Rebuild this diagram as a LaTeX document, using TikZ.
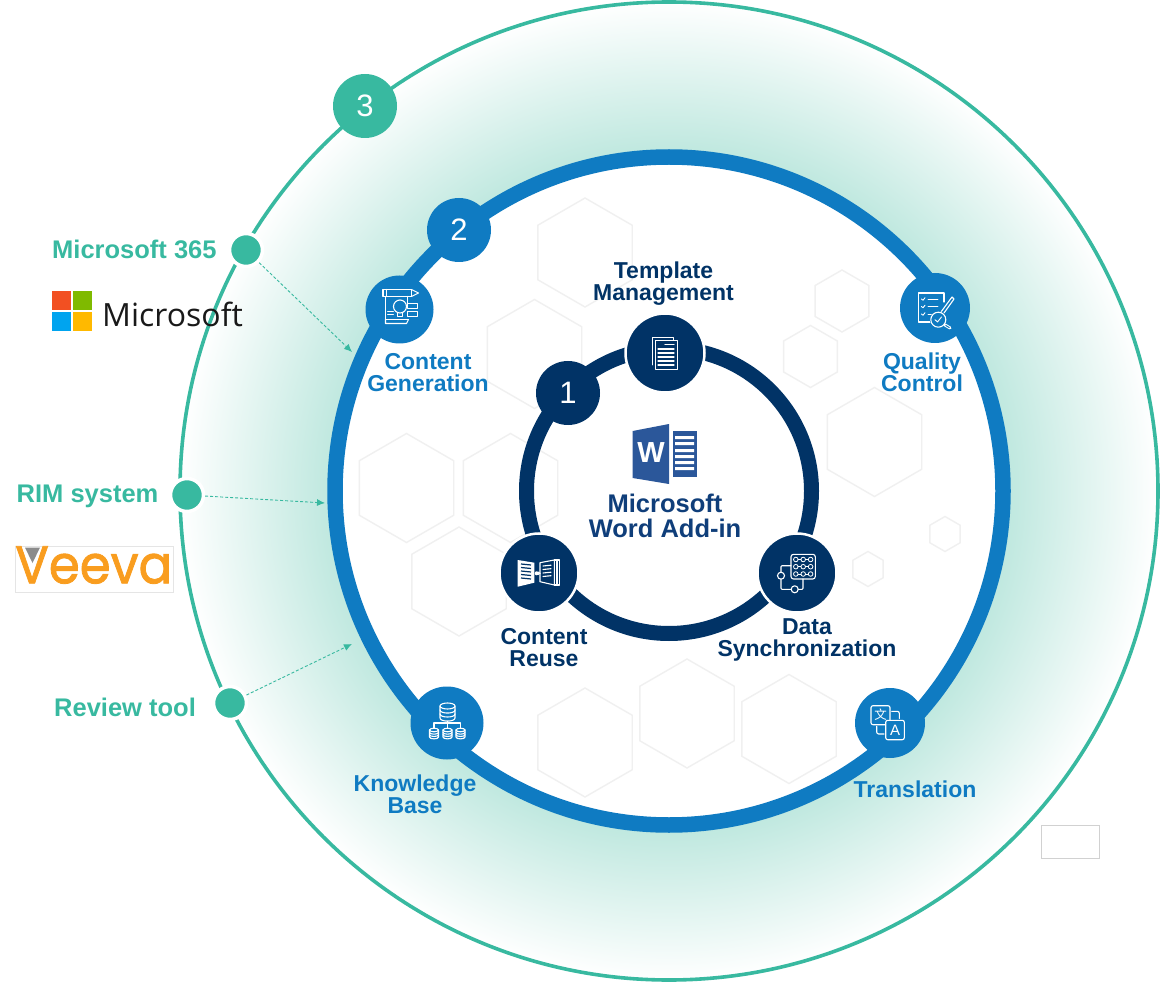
\documentclass[tikz,border=0pt]{standalone}
\usepackage{fontspec}
\usepackage{graphicx}
\setmainfont{Liberation Sans}
\newfontfamily\msfont{Open Sans}
\newfontfamily\vfont[FakeBold=1.6]{Poppins}
\newfontfamily\cjkfont{Noto Sans CJK SC}
\usetikzlibrary{shapes.geometric,arrows.meta}
\definecolor{teal1}{HTML}{38B9A0}
\definecolor{blue1}{HTML}{0F7BC2}
\definecolor{navy1}{HTML}{013366}
\definecolor{navytxt}{HTML}{0F3E7A}
\definecolor{wordblue}{HTML}{2B579A}
\definecolor{hexgray}{HTML}{F0F0F0}
\definecolor{veevaor}{HTML}{F99D1F}
\definecolor{msred}{HTML}{F25022}
\definecolor{msgreen}{HTML}{7FBA00}
\definecolor{msblue}{HTML}{00A4EF}
\definecolor{msyellow}{HTML}{FFB900}
\pgfdeclareradialshading{tealring}{\pgfpointorigin}{rgb(0bp)=(0.75,0.91,0.875); rgb(17.35bp)=(0.75,0.91,0.875); rgb(25bp)=(1,1,1); rgb(50bp)=(1,1,1)}
\tikzset{
  hexa/.style={draw=hexgray,line width=1.4pt,regular polygon,regular polygon sides=6,shape border rotate=30,inner sep=0pt,minimum size=#1},
  numdisc/.style={circle,inner sep=0pt,minimum size=64pt,text=white,font=\fontsize{31}{31}\selectfont},
  bluedisc/.style={circle,inner sep=0pt,fill=blue1,minimum size=#1},
  navydisc/.style={circle,inner sep=0pt,fill=navy1,draw=white,line width=2.5pt,minimum size=79pt},
  tealdot/.style={circle,inner sep=0pt,fill=teal1,draw=white,line width=3.5pt,minimum size=33pt},
  navylab/.style={align=center,text=navy1,font=\bfseries\fontsize{23}{22}\selectfont,inner sep=0pt},
  bluelab/.style={align=center,text=blue1,font=\bfseries\fontsize{23}{22}\selectfont,inner sep=0pt},
  teallab/.style={text=teal1,font=\bfseries\fontsize{25.5}{26}\selectfont,inner sep=0pt},
  dasharrow/.style={draw=teal1,line width=0.9pt,dash pattern=on 3pt off 2pt,-{Latex[length=8pt,width=7pt]}},
  ico/.style={draw=white,line width=1.1pt,line join=round,line cap=round},
  logosq/.style={minimum size=19.2pt,inner sep=0pt}
}
\newcommand{\minidb}[4]{% x y halfwidth height
  \draw[ico] (#1-#3,#2) -- (#1-#3,#2+#4) .. controls (#1-#3,#2+#4+#3*0.55) and (#1+#3,#2+#4+#3*0.55) .. (#1+#3,#2+#4) -- (#1+#3,#2);
  \draw[ico] (#1,#2) ellipse[x radius=#3,y radius=#3*0.4];
  \draw[ico] (#1-#3,#2+#4*0.33) .. controls (#1-#3,#2+#4*0.33+#3*0.55) and (#1+#3,#2+#4*0.33+#3*0.55) .. (#1+#3,#2+#4*0.33);
  \draw[ico] (#1-#3,#2+#4*0.66) .. controls (#1-#3,#2+#4*0.66+#3*0.55) and (#1+#3,#2+#4*0.66+#3*0.55) .. (#1+#3,#2+#4*0.66);
}
\begin{document}
\begin{tikzpicture}[x=1pt,y=-1pt]
\useasboundingbox (0,0) rectangle (1160,984);
\coordinate (hub) at (669,491);

% third circle
\shade[shading=tealring] (hub) circle (490);
\draw[teal1,line width=3.6pt] (hub) circle (489);

% interior
\fill[white] (hub) circle (334);

% hexagons
\node[hexa=109pt] (hx1) at (585,252.5) {};
\node[hexa=109pt] (hx2) at (534.5,354) {};
\node[hexa=109pt] (hx3) at (406.5,488) {};
\node[hexa=109pt] (hx4) at (510.5,488) {};
\node[hexa=109pt] (hx5) at (459,581.5) {};
\node[hexa=109pt] (hx6) at (585,742.5) {};
\node[hexa=109pt] (hx7) at (687,713.5) {};
\node[hexa=109pt] (hx8) at (789,729) {};
\node[hexa=109pt] (hx9) at (874.5,442) {};
\node[hexa=62pt] (hx10) at (842,301) {};
\node[hexa=62pt] (hx11) at (810.5,356.5) {};
\node[hexa=35pt] (hx12) at (945,534) {};
\node[hexa=35pt] (hx13) at (868,569) {};

% rings
\draw[blue1,line width=15.5pt] (hub) circle (334);
\draw[navy1,line width=15pt] (hub) circle (142.5);

% arrows' targets
\coordinate (t1) at (352,352);
\coordinate (t2) at (325,503);
\coordinate (t3) at (352,644);

% inner nodes
\node[numdisc,fill=navy1] (one) at (568,393) {1};
\node[navydisc] (tm) at (665,353) {};
\node[navydisc] (cr) at (539,573) {};
\node[navydisc] (ds) at (797,573) {};

% ring 2 nodes
\node[numdisc,fill=blue1] (two) at (459,230) {2};
\node[numdisc,fill=teal1] (three) at (365,106) {3};
\node[bluedisc=68pt] (cg) at (399.5,309.5) {};
\node[bluedisc=70pt] (qc) at (935,308) {};
\node[bluedisc=73pt] (kb) at (447,723) {};
\node[bluedisc=70pt] (tr) at (890,723) {};

% dots
\node[tealdot] (d1) at (246,250) {};
\node[tealdot] (d2) at (187,495) {};
\node[tealdot] (d3) at (230,703) {};
\draw[dasharrow] (d1) -- (t1);
\draw[dasharrow] (d2) -- (t2);
\draw[dasharrow] (d3) -- (t3);

% labels
\node[teallab,anchor=west] (l1) at (52,249) {Microsoft 365};
\node[teallab,anchor=west] (l2) at (16.5,496.5) {RIM system};
\node[teallab,anchor=west] (l3) at (54,707) {Review tool};

\node[navylab] (lt) at (663.5,283.8) {Template\\Management};
\node[navylab] (lr) at (544,647.5) {Content\\Reuse};
\node[navylab] (ld) at (807,639.5) {Data\\Synchronization};
\node[bluelab] (lg) at (428,372.5) {Content\\Generation};
\node[bluelab] (lq) at (922,372.5) {Quality\\Control};
\node[bluelab] (lk) at (415,794) {Knowledge\\Base};
\node[bluelab] (ltr) at (915,789) {Translation};
\node[align=center,text=navytxt,font=\bfseries\fontsize{25.5}{25.5}\selectfont,inner sep=0pt] (lw) at (665,516) {Microsoft\\Word Add-in};

% Word icon
\fill[wordblue] (672.7,431) rectangle (696.7,477);
\fill[white] (675,436) rectangle (694,439)
  (675,442) rectangle (694,445) (675,449) rectangle (694,452)
  (675,455) rectangle (694,458) (675,461) rectangle (694,464) (675,467) rectangle (694,470);
\fill[wordblue] (632.7,431) -- (669,424) -- (669,484) -- (632.7,478) -- cycle;
\node[text=white,font=\bfseries\fontsize{29}{29}\selectfont,inner sep=0pt] (wl) at (651,453) {W};

% Microsoft logo
\node[logosq,fill=msred,anchor=north west] (sq1) at (52,291) {};
\node[logosq,fill=msgreen,anchor=north west] (sq2) at (72.8,291) {};
\node[logosq,fill=msblue,anchor=north west] (sq3) at (52,311.8) {};
\node[logosq,fill=msyellow,anchor=north west] (sq4) at (72.8,311.8) {};
\node[inner sep=0pt,anchor=west,font=\msfont\fontsize{32}{32}\selectfont,text=black!90] (mslogo) at (102,314) {Microsoft};

% Veeva logo
\node[draw=black!10,line width=0.7pt,minimum width=158pt,minimum height=46pt,inner sep=0pt,anchor=north west] (vbox) at (14.5,545.5) {};
\node[inner sep=0pt,anchor=south west,text=veevaor,font=\vfont] (veeva) at (15,584) {\resizebox{157pt}{37pt}{Veeva}};
\fill[black!45] (25,547.5) -- (40,547.5) -- (32.5,563) -- cycle;

% empty box
\node[draw=black!18,fill=white,line width=0.8pt,minimum width=58pt,minimum height=33pt,inner sep=0pt,anchor=north west] (blank) at (1040.5,824.5) {};

% template icon
\begin{scope}[shift={(tm)}]
  \draw[ico,line width=0.9pt] (-10,-13) rectangle (12,16);
  \draw[ico,line width=0.9pt] (-13,12) -- (-13,-16) -- (8,-16) -- (8,-13);
  \foreach \yy in {-4,0,4,8,12} \draw[ico,line width=1.1pt] (-7,\yy) -- (9,\yy);
  \draw[ico,line width=1.4pt] (0,-8.5) -- (9,-8.5);
\end{scope}

% reuse icon
\begin{scope}[shift={(cr)}]
  \fill[white] (-21.3,-13) -- (-4.7,-10.3) -- (-4.7,9.7) -- (-21.3,13.7) -- cycle;
  \foreach \yy in {-9,-5.5,-2,1.5,5} \draw[navy1,line width=1.2pt] (-18,\yy) -- (-8,\yy+1);
  \fill[white] (-2.3,0.3) circle (2);
  \draw[white,line width=1.4pt,-{Latex[length=3pt,width=4pt]}] (-2,0.3) -- (2,0.3);
  \draw[ico] (1,-10.3) -- (15.3,-13) -- (15.3,12) -- (1,8.7) -- cycle;
  \draw[ico] (15.3,-13) -- (20.7,-13) -- (20.7,12) -- (15.3,12);
  \draw[ico,line width=1.2pt] (18,-13) -- (18,12);
  \foreach \yy in {-7,-3.5,0,3.5} \draw[ico,line width=1.1pt] (4,\yy) -- (12,\yy-0.8);
\end{scope}

% data icon
\begin{scope}[shift={(ds)}]
  \draw[ico,rounded corners=2.5pt] (-6,-18.7) rectangle (18.3,6);
  \foreach \xx in {-1.2,6.2,13.6} \foreach \yy in {-13.5,-6.3,1} \draw[ico,line width=0.8pt] (\xx,\yy) circle (2.3);
  \foreach \yy in {-13.5,-6.3,1} {\draw[ico,line width=0.7pt] (1,\yy) -- (4,\yy); \draw[ico,line width=0.7pt] (8.4,\yy) -- (11.4,\yy);}
  \draw[ico] (-16,2.7) circle (3.5);
  \draw[ico] (-2.3,16.3) circle (3.5);
  \draw[ico,rounded corners=1pt] (-16,-0.8) -- (-16,-7.3) -- (-6,-7.3);
  \draw[ico,rounded corners=1pt] (-16,6.2) -- (-16,16.3) -- (-5.8,16.3);
  \draw[ico,rounded corners=1pt] (1.2,16.3) -- (6,16.3) -- (6,6);
\end{scope}

% content generation icon
\begin{scope}[shift={(cg)}]
  \draw[ico] (-16.5,-20) rectangle (12,-13);
  \draw[ico] (12,-20) -- (19,-16.5) -- (12,-13);
  \draw[ico] (-13,-20) -- (-13,-13);
  \draw[ico] (-14,-13) -- (-14,10) -- (8,10);
  \draw[ico] (8,-13) -- (8,-5);
  \draw[ico] (-14,10) -- (-14,14) -- (7,14) -- (9,10);
  \draw[ico] (0.5,-3) circle (6.5);
  \draw[ico] (-2,3) -- (-2,7) -- (3,7) -- (3,3);
  \draw[ico] (8,-6) rectangle (18,-1);
  \draw[ico] (8,2) rectangle (18,7);
  \draw[ico,line width=0.8pt] (-12,2) -- (-6,2) (-12,5) -- (-6,5);
\end{scope}

% quality control icon
\begin{scope}[shift={(qc)}]
  \draw[ico] (-2,14) -- (-16.7,14) -- (-16.7,-15) -- (9,-15) -- (9,-6);
  \foreach \yy in {-9,-1.5,6} {\draw[ico,line width=0.9pt] (-13.5,\yy) -- (-12,\yy+1.3) -- (-10,\yy-1.3); \draw[ico,line width=0.9pt] (-7,\yy) -- (3,\yy);}
  \draw[ico] (6,4) -- (17,-11) -- (19,-9) -- (9,5);
  \draw[blue1,fill=blue1,line width=1pt] (3.3,11.7) circle (8);
  \draw[ico] (3.3,11.7) circle (7.5);
  \draw[ico,line width=0.9pt] (0,11.7) -- (2.5,14) -- (6.5,9);
  \draw[ico,line width=3pt] (10,17) -- (15,20);
  \draw[blue1,line width=1pt] (10.5,17.3) -- (14.5,19.7);
\end{scope}

% knowledge base icon
\begin{scope}[shift={(kb)}]
  \minidb{0.5}{-17}{7.5}{12}
  \draw[ico] (0.5,-2) -- (0.5,5);
  \draw[ico] (-13,5) -- (-13,0) -- (13.5,0) -- (13.5,5);
  \minidb{-13}{7}{4.5}{7}
  \minidb{0.5}{7}{4.5}{7}
  \minidb{13.5}{7}{4.5}{7}
\end{scope}

% translation icon
\begin{scope}[shift={(tr)}]
  \draw[ico,rounded corners=2pt] (-19,-17.3) rectangle (0,1.7);
  \draw[ico,fill=blue1,rounded corners=2pt] (-4.3,-2.7) rectangle (14.3,16.7);
  \draw[ico,rounded corners=2pt] (1.7,-11.7) -- (9.3,-11.7) -- (9.3,-4.5);
  \draw[ico,rounded corners=2pt] (-13.3,3.3) -- (-13.3,11) -- (-6,11);
  \node[text=white,inner sep=0pt,font=\cjkfont\fontsize{12.5}{12.5}\selectfont] (zh) at (-9.5,-8) {文};
  \node[text=white,inner sep=0pt,font=\fontsize{15}{15}\selectfont] (latin) at (5,7) {A};
\end{scope}
\end{tikzpicture}
\end{document}
